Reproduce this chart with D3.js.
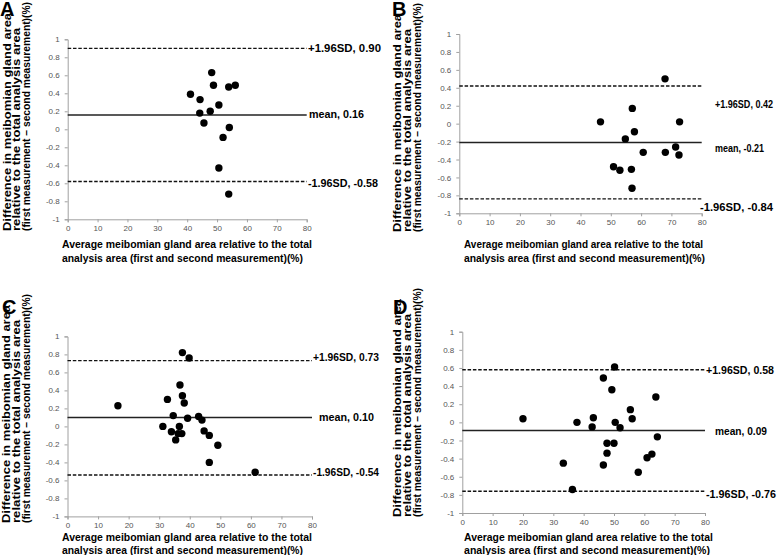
<!DOCTYPE html>
<html>
<head>
<meta charset="utf-8">
<script src="https://cdn.jsdelivr.net/npm/d3@7"></script>
<style>
  body { margin: 0; background: #fff; }
  text { font-family: "Liberation Sans", Arial, sans-serif; }
</style>
</head>
<body>
<div id="chart"></div>
<script>
// Bland-Altman data: x = average area (%), y = difference (%)
var avgA = [41.1, 44.3, 44.2, 45.6, 47.7, 48.2, 48.8, 50.6, 50.6, 52.0, 53.9, 54.1, 56.1, 53.9];
var diffA = [0.39, 0.33, 0.18, 0.07, 0.20, 0.63, 0.49, 0.27, -0.43, -0.09, 0.47, 0.02, 0.49, -0.72];

var avgB = [46.6, 50.9, 53.0, 54.8, 56.8, 57.0, 57.1, 57.8, 60.7, 67.9, 68.0, 71.4, 72.7, 72.5];
var diffB = [0.02, -0.48, -0.52, -0.17, -0.51, -0.72, 0.17, -0.09, -0.32, 0.50, -0.32, -0.26, 0.02, -0.35];

var avgC = [16.5, 37.6, 39.8, 36.8, 32.7, 37.6, 38.2, 34.6, 39.3, 42.9, 44.0, 31.2, 36.6, 34.0,
            36.2, 37.4, 35.4, 44.7, 46.4, 49.2, 46.4, 61.4];
var diffC = [0.23, 0.82, 0.76, 0.46, 0.30, 0.34, 0.26, 0.12, 0.09, 0.11, 0.07, 0.00, 0.00, -0.06,
             -0.08, -0.08, -0.15, -0.05, -0.10, -0.21, -0.40, -0.51];

var avgD = [20.0, 37.8, 33.3, 36.3, 43.2, 42.8, 46.5, 50.2, 49.3, 50.4, 52.0, 55.4, 56.0, 63.8,
            64.3, 47.7, 50.0, 47.7, 46.5, 60.9, 62.5, 58.0];
var diffD = [0.04, 0.00, -0.45, -0.74, 0.05, -0.05, 0.49, 0.61, 0.36, 0.00, -0.06, 0.14, 0.04, 0.28,
             -0.16, -0.23, -0.23, -0.34, -0.47, -0.39, -0.35, -0.55];

// limits of agreement: upper, mean, lower
var linesA = [0.90, 0.16, -0.58];
var linesB = [0.42, -0.21, -0.84];
var linesC = [0.73, 0.10, -0.54];
var linesD = [0.58, -0.09, -0.76];

var labelsA = ["+1.96SD, 0.90", "mean,  0.16", "-1.96SD,  -0.58"];
var labelsB = ["+1.96SD, 0.42", "mean,  -0.21", "-1.96SD, -0.84"];
var labelsC = ["+1.96SD, 0.73", "mean,  0.10", "-1.96SD, -0.54"];
var labelsD = ["+1.96SD, 0.58", "mean,  0.09", "-1.96SD, -0.76"];

var xTicks = [0, 10, 20, 30, 40, 50, 60, 70, 80];
var yTicks = [1, 0.8, 0.6, 0.4, 0.2, 0, -0.2, -0.4, -0.6, -0.8, -1];

var yTitle = ["Difference in meibomian gland area",
              "relative to the   total analysis area",
              "(first measurement \u2013 second measurement)(%)"];
var xTitle = ["Average meibomian gland area relative to the total",
              "analysis area (first and second measurement)(%)"];

// where each panel sits on the page
var panels = [
  { letter: "A", avg: avgA, diff: diffA, lines: linesA, labels: labelsA,
    left: 67.7, right: 306.7, top: 39.3, bottom: 219.3,
    lbl: [[308, 47.7, 73], [309, 114, 55], [308, 183, 70]],
    letterPos: [0, 16], yT: [10.5, 20, 29.5, 231], xT: [62, 248, 262, 250, 241] },
  { letter: "B", avg: avgB, diff: diffB, lines: linesB, labels: labelsB,
    left: 459.3, right: 701.7, top: 34, bottom: 213.3,
    lbl: [[715, 104.3, 58], [715, 148.3, 49], [700, 207.3, 73]],
    letterPos: [392, 16], yT: [401, 411, 421, 232], xT: [464, 248, 262, 239, 241] },
  { letter: "C", avg: avgC, diff: diffC, lines: linesC, labels: labelsC,
    left: 67.5, right: 312, top: 336.4, bottom: 516.4,
    lbl: [[313, 356.7, 66], [319, 416.7, 55], [313, 471.7, 66]],
    letterPos: [2, 314], yT: [9.5, 19.5, 29.5, 523], xT: [62, 540.5, 554, 250, 241] },
  { letter: "D", avg: avgD, diff: diffD, lines: linesD, labels: labelsD,
    left: 462.3, right: 705, top: 331.7, bottom: 513,
    lbl: [[706, 370, 68], [715, 431, 52], [706, 494, 70]],
    letterPos: [393, 314], yT: [401, 411, 421, 517], xT: [464, 540.5, 554, 249, 246] }
];
var yTitleLen = [218, 203, 229];

var svg = d3.select("#chart")
  .append("svg")
  .attr("width", 777)
  .attr("height", 555);

panels.forEach(function(p) {
  var x = d3.scaleLinear().domain([0, 80]).range([p.left, p.right]);
  var y = d3.scaleLinear().domain([-1, 1]).range([p.bottom, p.top]);
  var g = svg.append("g");

  // axes
  var yAxis = g.append("g")
    .attr("transform", "translate(" + p.left + ",0)")
    .call(d3.axisLeft(y).tickValues(yTicks).tickSize(3).tickPadding(5).tickFormat(function(d) { return String(d); }));
  var xAxis = g.append("g")
    .attr("transform", "translate(0," + p.bottom + ")")
    .call(d3.axisBottom(x).tickValues(xTicks).tickSize(3).tickPadding(3).tickFormat(function(d) { return String(d); }));
  [xAxis, yAxis].forEach(function(a) {
    a.select(".domain").attr("stroke", "#a0a0a0");
    a.selectAll(".tick line").attr("stroke", "#a0a0a0");
    a.selectAll(".tick text").attr("fill", "#555").style("font-size", "8px");
  });

  // mean and limits
  p.lines.forEach(function(v, i) {
    g.append("line")
      .attr("x1", x(0)).attr("x2", x(80))
      .attr("y1", y(v)).attr("y2", y(v))
      .attr("stroke", i == 1 ? "#222" : "#111")
      .attr("stroke-width", i == 1 ? 1.5 : 1.3)
      .attr("stroke-dasharray", i == 1 ? null : "3.5,1.8");
    g.append("text")
      .attr("x", p.lbl[i][0]).attr("y", p.lbl[i][1] + 4)
      .attr("textLength", p.lbl[i][2]).attr("lengthAdjust", "spacingAndGlyphs")
      .style("font-size", "11.5px").style("font-weight", "bold")
      .text(p.labels[i]);
  });

  // points
  g.selectAll("circle")
    .data(p.avg)
    .enter().append("circle")
    .attr("cx", function(d) { return x(d); })
    .attr("cy", function(d, i) { return y(p.diff[i]); })
    .attr("r", 3.7)
    .attr("fill", "#000");

  // titles
  for (var k = 0; k < 3; k++) {
    g.append("text")
      .attr("transform", "translate(" + p.yT[k] + "," + p.yT[3] + ") rotate(-90)")
      .attr("textLength", yTitleLen[k]).attr("lengthAdjust", "spacingAndGlyphs")
      .style("font-size", "11px").style("font-weight", "bold")
      .text(yTitle[k]);
  }
  xTitle.forEach(function(t, k) {
    g.append("text")
      .attr("x", p.xT[0]).attr("y", p.xT[1 + k])
      .attr("textLength", p.xT[3 + k]).attr("lengthAdjust", "spacingAndGlyphs")
      .style("font-size", "11.5px").style("font-weight", "bold")
      .text(t);
  });

  g.append("text")
    .attr("x", p.letterPos[0]).attr("y", p.letterPos[1])
    .style("font-size", "20px").style("font-weight", "bold")
    .text(p.letter);
});
</script>
</body>
</html>
